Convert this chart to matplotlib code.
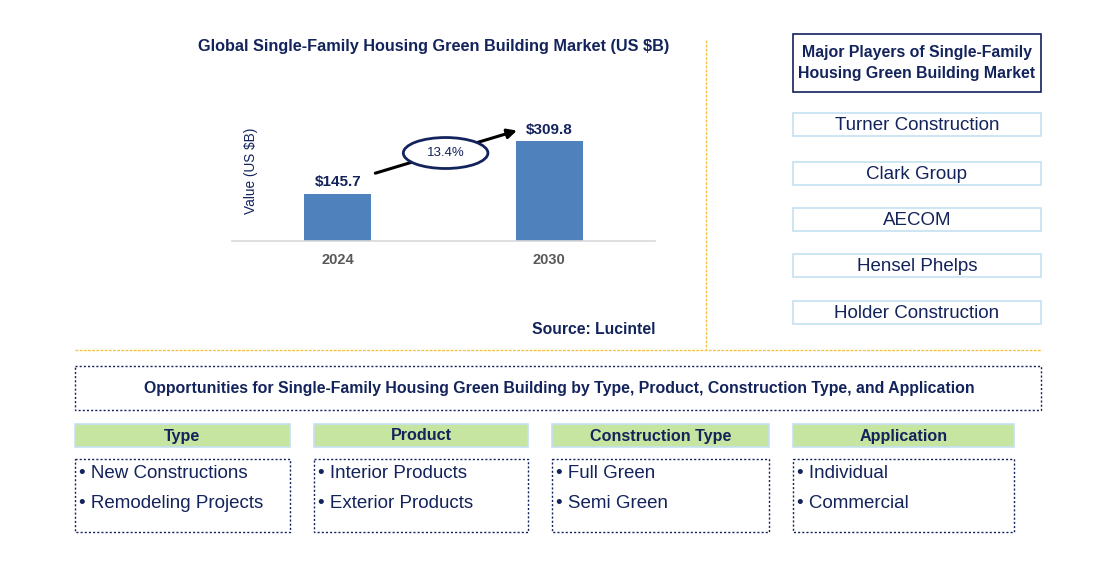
import matplotlib
matplotlib.use("Agg")
import matplotlib.pyplot as plt
from matplotlib.patches import Rectangle, Ellipse, FancyArrowPatch

plt.rcParams['font.family'] = ['Liberation Sans', 'DejaVu Sans']

# ---- data ----
years = ["2024", "2030"]
values = [145.7, 309.8]
cagr_label = "13.4%"
chart_title = "Global Single-Family Housing Green Building Market (US $B)"
y_label = "Value (US $B)"
source = "Source: Lucintel"
players_title = "Major Players of Single-Family\nHousing Green Building Market"
players = ["Turner Construction", "Clark Group", "AECOM", "Hensel Phelps", "Holder Construction"]
opp_title = "Opportunities for Single-Family Housing Green Building by Type, Product, Construction Type, and Application"
seg_headers = ["Type", "Product", "Construction Type", "Application"]
seg_items = [
    ["New Constructions", "Remodeling Projects"],
    ["Interior Products", "Exterior Products"],
    ["Full Green", "Semi Green"],
    ["Individual", "Commercial"],
]

NAVY = "#13235b"
BAR = "#4f81bd"
GOLD = "#f5c342"
LBLUE = "#c5e0f2"
GREEN = "#c6e5a0"

W, H = 1105, 587
fig = plt.figure(figsize=(W / 100, H / 100), dpi=100)

bg = fig.add_axes([0, 0, 1, 1])
bg.set_xlim(0, W)
bg.set_ylim(H, 0)
bg.axis("off")

# ---- bar chart ----
ax_l, ax_r, ax_t, ax_b = 232, 655, 101, 241
ax = fig.add_axes([ax_l / W, 1 - ax_b / H, (ax_r - ax_l) / W, (ax_b - ax_t) / H])
x = list(range(len(years)))
bars = ax.bar(x, values, width=0.317, color=BAR, zorder=2)
ax.set_xlim(-0.5, 1.5)
ax.set_ylim(0, 434)
for s in ["top", "right", "left"]:
    ax.spines[s].set_visible(False)
ax.spines["bottom"].set_color("#d9d9d9")
ax.spines["bottom"].set_linewidth(1.2)
ax.set_yticks([])
ax.set_xticks(x)
ax.set_xticklabels(years, fontsize=10.5, fontweight="bold", color="#595959")
ax.tick_params(axis="x", length=0, pad=9)
for xi, v in zip(x, values):
    ax.text(xi, v + 14, f"${v:.1f}", ha="center", va="bottom", fontsize=11,
            fontweight="bold", color=NAVY)
ax.set_ylabel(y_label, fontsize=9.8, color=NAVY)
ax.yaxis.set_label_coords(0.062, 0.5)
ax.patch.set_alpha(0)

# CAGR arrow and ellipse (positions in data coordinates)
arrow = FancyArrowPatch((0 + 0.165, values[0] + 62), (1 - 0.14, values[1] + 35),
                        arrowstyle="-|>", mutation_scale=14, lw=2.2, color="black", zorder=3)
ax.add_patch(arrow)
ell = Ellipse((0.51, (values[0] + values[1]) / 2 + 45), width=0.40, height=96,
              facecolor="white", edgecolor=NAVY, lw=2, zorder=4)
ax.add_patch(ell)
ax.text(0.51, (values[0] + values[1]) / 2 + 45, cagr_label, ha="center", va="center",
        fontsize=9.5, color=NAVY, zorder=5)

# title and source
bg.text(434, 46, chart_title, ha="center", va="center", fontsize=11.7, fontweight="bold", color=NAVY)
bg.text(656, 330, source, ha="right", va="center", fontsize=11.3, fontweight="bold", color=NAVY)

# dividers
bg.plot([706, 706], [40, 350], color=GOLD, lw=1, ls=(0, (2, 1)))
bg.plot([75, 1041], [350, 350], color=GOLD, lw=1, ls=(0, (2, 1)))

# ---- players ----
bg.add_patch(Rectangle((793, 34), 248, 58, facecolor="white", edgecolor=NAVY, lw=1.2))
bg.text(917, 63, players_title, ha="center", va="center", fontsize=11.4, fontweight="bold",
        color=NAVY, linespacing=1.45)
pb_tops = [113, 162, 208, 254, 301]
for name, top in zip(players, pb_tops):
    bg.add_patch(Rectangle((793, top), 248, 23, facecolor="white", edgecolor=LBLUE, lw=1.2))
    bg.text(917, top + 12.5, name, ha="center", va="center", fontsize=13.5, color=NAVY)

# ---- opportunities ----
bg.add_patch(Rectangle((75, 366), 966, 44, facecolor="white", edgecolor=NAVY, lw=1, ls=(0, (1.5, 1.5))))
bg.text(559, 388, opp_title, ha="center", va="center", fontsize=11.4, fontweight="bold", color=NAVY)

col_x = [(75, 290), (314, 528), (552, 769), (793, 1014)]
for (x0, x1), head, items in zip(col_x, seg_headers, seg_items):
    bg.add_patch(Rectangle((x0, 424), x1 - x0, 23, facecolor=GREEN, edgecolor=LBLUE, lw=1.2))
    bg.text((x0 + x1) / 2, 436, head, ha="center", va="center", fontsize=11.6, fontweight="bold", color=NAVY)
    bg.add_patch(Rectangle((x0, 459), x1 - x0, 73, facecolor="white", edgecolor=NAVY, lw=1, ls=(0, (1.5, 1.5))))
    for k, it in enumerate(items):
        bg.text(x0 + 4, 474 + 30 * k, "\u2022 " + it, ha="left", va="center", fontsize=13.5, color=NAVY)

fig.savefig("out.png", dpi=100)
